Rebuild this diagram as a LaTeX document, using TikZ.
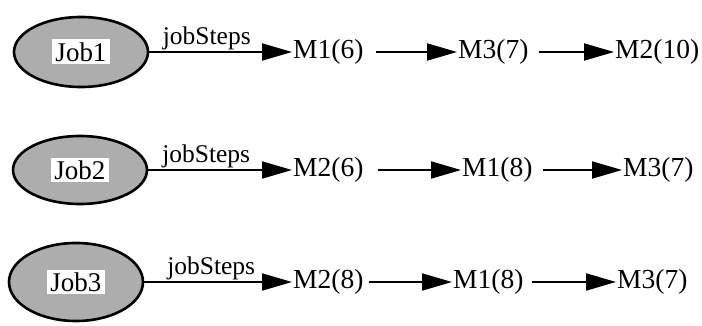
\documentclass[tikz,border=0pt]{standalone}
\usepackage{fontspec}
\setmainfont{Liberation Serif}
\usetikzlibrary{arrows.meta,shapes.geometric}
\begin{document}
\begin{tikzpicture}[x=1pt,y=-1pt,
  jobell/.style={draw=black,line width=2.6pt,ellipse,fill=black!32,inner sep=0pt,minimum width=134pt,minimum height=70pt},
  jobtxt/.style={fill=white,inner sep=3pt,font=\fontsize{27}{30}\selectfont},
  mtxt/.style={anchor=west,inner sep=0pt,font=\fontsize{27.5}{31}\selectfont},
  lbl/.style={font=\fontsize{25.5}{28}\selectfont,inner sep=1pt,above},
  conn/.style={line width=2pt,-{Triangle[length=30pt,width=17pt]},shorten >=1pt}]
\useasboundingbox (0,0) rectangle (702,326);
% row 1
\node[jobell] (j1) at (81,52) {};
\node[jobtxt] (t1) at (j1) {Job1};
\node[mtxt] (a1) at (293,52) {M1(6)};
\node[mtxt] (a2) at (458,52) {M3(7)};
\node[mtxt] (a3) at (615,52) {M2(10)};
\draw[conn] (j1.east) -- node[lbl,pos=0.4] (l1) {jobSteps} (a1.west);
\draw[conn,shorten <=12pt] (a1.east) -- (a2.west);
\draw[conn,shorten <=10pt] (a2.east) -- (a3.west);
% row 2
\node[jobell,minimum height=68pt] (j2) at (80,170) {};
\node[jobtxt] (t2) at (j2) {Job2};
\node[mtxt] (b1) at (293,170) {M2(6)};
\node[mtxt] (b2) at (462,170) {M1(8)};
\node[mtxt] (b3) at (623,170) {M3(7)};
\draw[conn] (j2.east) -- node[lbl,pos=0.4] (l2) {jobSteps} (b1.west);
\draw[conn,shorten <=14pt] (b1.east) -- (b2.west);
\draw[conn,shorten <=10pt] (b2.east) -- (b3.west);
% row 3
\node[jobell,minimum height=78pt] (j3) at (76,282) {};
\node[jobtxt] (t3) at (j3) {Job3};
\node[mtxt] (c1) at (293,282) {M2(8)};
\node[mtxt] (c2) at (453,282) {M1(8)};
\node[mtxt] (c3) at (617,282) {M3(7)};
\draw[conn] (j3.east) -- node[lbl,pos=0.45] (l3) {jobSteps} (c1.west);
\draw[conn,shorten <=5pt] (c1.east) -- (c2.west);
\draw[conn,shorten <=8pt] (c2.east) -- (c3.west);
\end{tikzpicture}
\end{document}
